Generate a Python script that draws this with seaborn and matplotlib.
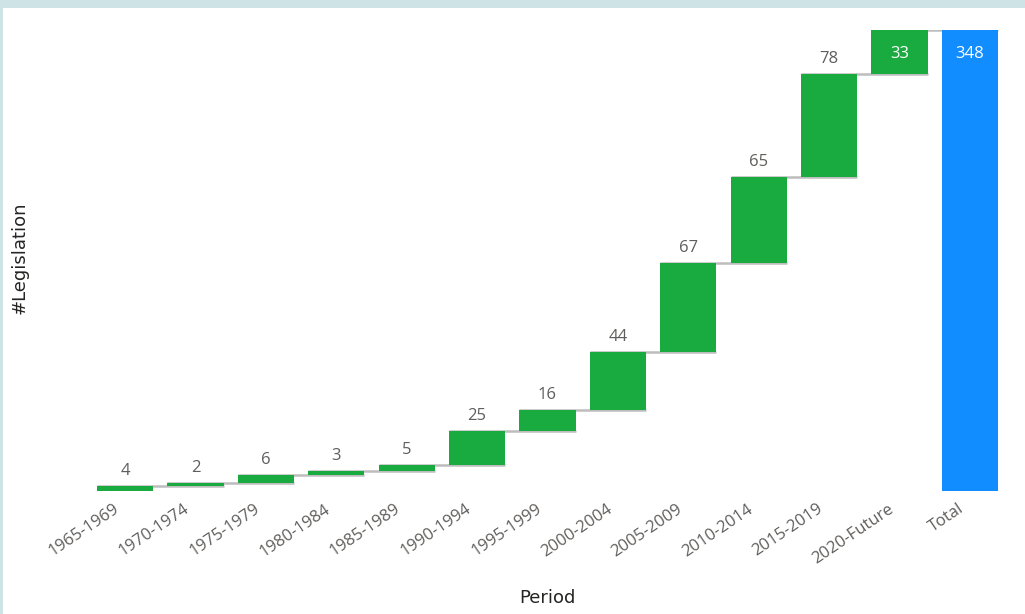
import matplotlib
matplotlib.use("Agg")
import matplotlib.pyplot as plt
import seaborn as sns
import numpy as np
import pandas as pd
from matplotlib.patches import Rectangle

periods = ["1965-1969", "1970-1974", "1975-1979", "1980-1984", "1985-1989",
           "1990-1994", "1995-1999", "2000-2004", "2005-2009", "2010-2014",
           "2015-2019", "2020-Future"]
values = [4, 2, 6, 3, 5, 25, 16, 44, 67, 65, 78, 33]
total_label = "Total"

cum = np.cumsum(values)
total = int(cum[-1])
cats = periods + [total_label]
heights = values + [total]
bottoms = list(np.concatenate([[0], cum[:-1]])) + [0]
df = pd.DataFrame({"Period": cats, "height": heights, "bottom": bottoms})

sns.set_theme(style="white")
plt.rcParams["font.family"] = ["Open Sans", "DejaVu Sans"]

W, H = 1025, 614
fig = plt.figure(figsize=(W / 100, H / 100), dpi=100)
fig.patch.set_facecolor("#CDE3E5")
fig.patches.append(Rectangle((3 / W, 0), 1, (H - 8) / H, transform=fig.transFigure,
                             facecolor="white", edgecolor="none", zorder=-10))

left_px, right_px = 89.8, 1005.2
top_px, bot_px = 30, 491
ax = fig.add_axes([left_px / W, (H - bot_px) / H, (right_px - left_px) / W, (bot_px - top_px) / H])
ax.set_facecolor("none")
ax.set_zorder(1)

green = "#1AAB40"
blue = "#118DFF"

sns.barplot(data=df, x="Period", y="height", bottom=df["bottom"].values, color=green,
            saturation=1, width=0.8, errorbar=None, ax=ax, zorder=3, edgecolor="none")
ax.patches[-1].set_facecolor(blue)

# connectors
for i in range(len(values)):
    ax.plot([i - 0.4, i + 1 + 0.4], [cum[i], cum[i]], color="#BDBDBD", lw=1.8, zorder=2,
            solid_capstyle="butt")

ax.set_xlim(-0.5, len(cats) - 0.5)
ax.set_ylim(0, total)

lab_color = "#605E5C"
for i, (h, b) in enumerate(zip(heights, bottoms)):
    top = b + h
    if i >= len(cats) - 2:
        ax.annotate(f"{h}", (i, top), xytext=(0, -28), textcoords="offset pixels",
                    ha="center", va="baseline", fontsize=12, color="white", zorder=5)
    else:
        ax.annotate(f"{h}", (i, top), xytext=(0, 11), textcoords="offset pixels",
                    ha="center", va="baseline", fontsize=12, color=lab_color, zorder=5)

sns.despine(ax=ax, left=True, bottom=True)
ax.set_yticks([])
ax.set_xticks(range(len(cats)))
ax.set_xticklabels([])
ax.tick_params(axis="x", length=0)
for i, name in enumerate(cats):
    ax.annotate(name, (i, 0), xycoords=("data", "axes fraction"), xytext=(-12, -10),
                textcoords="offset pixels", ha="right", va="top", rotation=34,
                rotation_mode="anchor", fontsize=12, color=lab_color)

ax.set_xlabel("Period", fontsize=13, color="#252423", family=["DejaVu Sans"])
ax.set_ylabel("#Legislation", fontsize=13, color="#252423", family=["DejaVu Sans"])
ax.xaxis.set_label_coords(0.5, -(598 - bot_px) / (bot_px - top_px))
ax.yaxis.set_label_coords((20 - left_px) / (right_px - left_px), 0.505)
ax.xaxis.label.set_va("center")
ax.yaxis.label.set_va("center")

fig.savefig("out.png", dpi=100, facecolor=fig.get_facecolor())
